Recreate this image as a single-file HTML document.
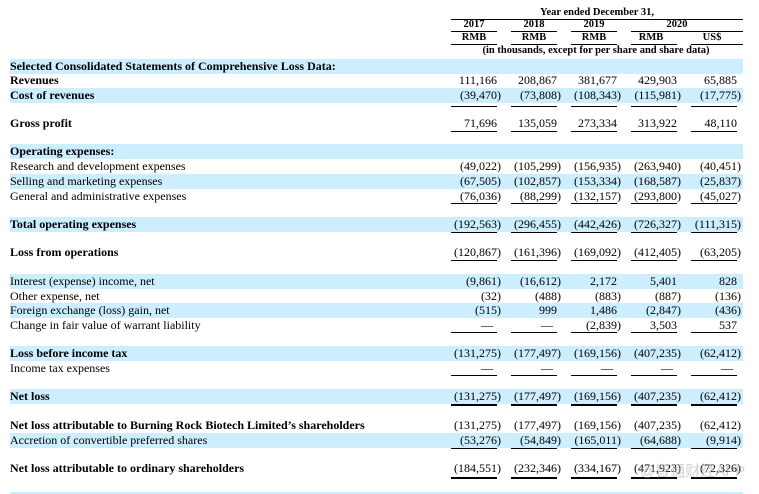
<!DOCTYPE html>
<html><head><meta charset="utf-8">
<style>
html,body{margin:0;padding:0;background:#fff;}
body{width:759px;height:494px;position:relative;overflow:hidden;font-family:"Liberation Serif","Times New Roman",serif;font-size:12px;color:#000;}
.r{position:absolute;left:0;width:759px;height:15px;line-height:15px;white-space:nowrap;}
.bg{position:absolute;left:10px;width:733px;height:15px;background:#cceeff;}
.l{position:absolute;left:10px;top:0;}
.b{font-weight:bold;}
.v{position:absolute;top:0;text-align:right;}
.v i{position:absolute;left:100%;font-style:normal;}
.c1{right:262px}.c2{right:202px}.c3{right:142px}.c4{right:82px}.c5{right:22px}
.d1{right:266px}.d2{right:206px}.d3{right:146px}.d4{right:86px}.d5{right:26px}
.u{position:absolute;height:1px;background:#000;}
.t{height:2px;}
.h{position:absolute;font-weight:bold;font-size:10.5px;line-height:12px;white-space:nowrap;transform:translateX(-50%);}
.wm{position:absolute;left:640px;top:460px;font-family:"Liberation Sans","Noto Sans CJK SC",sans-serif;font-size:15px;color:rgba(170,170,170,0.55);white-space:nowrap;}
</style></head>
<body>
<!-- header -->
<div class="h" style="left:597px;top:7px;">Year ended December 31,</div>
<div class="u" style="left:451px;top:19px;width:292px;"></div>
<div class="h" style="left:474px;top:19px;">2017</div>
<div class="h" style="left:534px;top:19px;">2018</div>
<div class="h" style="left:594px;top:19px;">2019</div>
<div class="h" style="left:677px;top:19px;">2020</div>
<div class="u" style="left:451px;top:31px;width:46px;"></div>
<div class="u" style="left:511px;top:31px;width:46px;"></div>
<div class="u" style="left:571px;top:31px;width:46px;"></div>
<div class="u" style="left:631px;top:31px;width:112px;"></div>
<div class="h" style="left:474px;top:32px;">RMB</div>
<div class="h" style="left:534px;top:32px;">RMB</div>
<div class="h" style="left:594px;top:32px;">RMB</div>
<div class="h" style="left:651px;top:32px;">RMB</div>
<div class="h" style="left:712px;top:32px;">US$</div>
<div class="u" style="left:451px;top:44px;width:46px;"></div>
<div class="u" style="left:511px;top:44px;width:46px;"></div>
<div class="u" style="left:571px;top:44px;width:46px;"></div>
<div class="u" style="left:631px;top:44px;width:46px;"></div>
<div class="u" style="left:691px;top:44px;width:52px;"></div>
<div class="h" style="left:596px;top:45px;">(in thousands, except for per share and share data)</div>

<!-- backgrounds -->
<div class="bg" style="top:59px"></div>
<div class="bg" style="top:88px"></div>
<div class="bg" style="top:144px"></div>
<div class="bg" style="top:174px"></div>
<div class="bg" style="top:217px"></div>
<div class="bg" style="top:274px"></div>
<div class="bg" style="top:303px"></div>
<div class="bg" style="top:346px"></div>
<div class="bg" style="top:389px"></div>
<div class="bg" style="top:433px"></div>
<div class="bg" style="top:492px;height:2px"></div>

<div class="r" style="top:59px"><span class="l b">Selected Consolidated Statements of Comprehensive Loss Data:</span></div>

<div class="r" style="top:73px"><span class="l b">Revenues</span>
<span class="v c1">111,166</span><span class="v c2">208,867</span><span class="v c3">381,677</span><span class="v c4">429,903</span><span class="v c5">65,885</span></div>

<div class="r" style="top:88px"><span class="l b">Cost of revenues</span>
<span class="v c1">(39,470<i>)</i></span><span class="v c2">(73,808<i>)</i></span><span class="v c3">(108,343<i>)</i></span><span class="v c4">(115,981<i>)</i></span><span class="v c5">(17,775<i>)</i></span></div>

<div class="r" style="top:116px"><span class="l b">Gross profit</span>
<span class="v c1">71,696</span><span class="v c2">135,059</span><span class="v c3">273,334</span><span class="v c4">313,922</span><span class="v c5">48,110</span></div>

<div class="r" style="top:144px"><span class="l b">Operating expenses:</span></div>

<div class="r" style="top:159px"><span class="l">Research and development expenses</span>
<span class="v c1">(49,022<i>)</i></span><span class="v c2">(105,299<i>)</i></span><span class="v c3">(156,935<i>)</i></span><span class="v c4">(263,940<i>)</i></span><span class="v c5">(40,451<i>)</i></span></div>

<div class="r" style="top:174px"><span class="l">Selling and marketing expenses</span>
<span class="v c1">(67,505<i>)</i></span><span class="v c2">(102,857<i>)</i></span><span class="v c3">(153,334<i>)</i></span><span class="v c4">(168,587<i>)</i></span><span class="v c5">(25,837<i>)</i></span></div>

<div class="r" style="top:189px"><span class="l">General and administrative expenses</span>
<span class="v c1">(76,036<i>)</i></span><span class="v c2">(88,299<i>)</i></span><span class="v c3">(132,157<i>)</i></span><span class="v c4">(293,800<i>)</i></span><span class="v c5">(45,027<i>)</i></span></div>

<div class="r" style="top:217px"><span class="l b">Total operating expenses</span>
<span class="v c1">(192,563<i>)</i></span><span class="v c2">(296,455<i>)</i></span><span class="v c3">(442,426<i>)</i></span><span class="v c4">(726,327<i>)</i></span><span class="v c5">(111,315<i>)</i></span></div>

<div class="r" style="top:245px"><span class="l b">Loss from operations</span>
<span class="v c1">(120,867<i>)</i></span><span class="v c2">(161,396<i>)</i></span><span class="v c3">(169,092<i>)</i></span><span class="v c4">(412,405<i>)</i></span><span class="v c5">(63,205<i>)</i></span></div>

<div class="r" style="top:274px"><span class="l">Interest (expense) income, net</span>
<span class="v c1">(9,861<i>)</i></span><span class="v c2">(16,612<i>)</i></span><span class="v c3">2,172</span><span class="v c4">5,401</span><span class="v c5">828</span></div>

<div class="r" style="top:289px"><span class="l">Other expense, net</span>
<span class="v c1">(32<i>)</i></span><span class="v c2">(488<i>)</i></span><span class="v c3">(883<i>)</i></span><span class="v c4">(887<i>)</i></span><span class="v c5">(136<i>)</i></span></div>

<div class="r" style="top:303px"><span class="l">Foreign exchange (loss) gain, net</span>
<span class="v c1">(515<i>)</i></span><span class="v c2">999</span><span class="v c3">1,486</span><span class="v c4">(2,847<i>)</i></span><span class="v c5">(436<i>)</i></span></div>

<div class="r" style="top:318px"><span class="l">Change in fair value of warrant liability</span>
<span class="v d1">—</span><span class="v d2">—</span><span class="v c3">(2,839<i>)</i></span><span class="v c4">3,503</span><span class="v c5">537</span></div>

<div class="r" style="top:346px"><span class="l b">Loss before income tax</span>
<span class="v c1">(131,275<i>)</i></span><span class="v c2">(177,497<i>)</i></span><span class="v c3">(169,156<i>)</i></span><span class="v c4">(407,235<i>)</i></span><span class="v c5">(62,412<i>)</i></span></div>

<div class="r" style="top:361px"><span class="l">Income tax expenses</span>
<span class="v d1">—</span><span class="v d2">—</span><span class="v d3">—</span><span class="v d4">—</span><span class="v d5">—</span></div>

<div class="r" style="top:389px"><span class="l b">Net loss</span>
<span class="v c1">(131,275<i>)</i></span><span class="v c2">(177,497<i>)</i></span><span class="v c3">(169,156<i>)</i></span><span class="v c4">(407,235<i>)</i></span><span class="v c5">(62,412<i>)</i></span></div>

<div class="r" style="top:418px"><span class="l b">Net loss attributable to Burning Rock Biotech Limited’s shareholders</span>
<span class="v c1">(131,275<i>)</i></span><span class="v c2">(177,497<i>)</i></span><span class="v c3">(169,156<i>)</i></span><span class="v c4">(407,235<i>)</i></span><span class="v c5">(62,412<i>)</i></span></div>

<div class="r" style="top:433px"><span class="l">Accretion of convertible preferred shares</span>
<span class="v c1">(53,276<i>)</i></span><span class="v c2">(54,849<i>)</i></span><span class="v c3">(165,011<i>)</i></span><span class="v c4">(64,688<i>)</i></span><span class="v c5">(9,914<i>)</i></span></div>

<div class="r" style="top:461px"><span class="l b">Net loss attributable to ordinary shareholders</span>
<span class="v c1">(184,551<i>)</i></span><span class="v c2">(232,346<i>)</i></span><span class="v c3">(334,167<i>)</i></span><span class="v c4">(471,923<i>)</i></span><span class="v c5">(72,326<i>)</i></span></div>

<!-- underlines -->
<div class="u" style="left:451px;top:106px;width:46px"></div><div class="u" style="left:511px;top:106px;width:46px"></div><div class="u" style="left:571px;top:106px;width:46px"></div><div class="u" style="left:631px;top:106px;width:46px"></div><div class="u" style="left:691px;top:106px;width:46px"></div>
<div class="u" style="left:451px;top:131px;width:46px"></div><div class="u" style="left:511px;top:131px;width:46px"></div><div class="u" style="left:571px;top:131px;width:46px"></div><div class="u" style="left:631px;top:131px;width:46px"></div><div class="u" style="left:691px;top:131px;width:46px"></div>
<div class="u" style="left:451px;top:203px;width:46px"></div><div class="u" style="left:511px;top:203px;width:46px"></div><div class="u" style="left:571px;top:203px;width:46px"></div><div class="u" style="left:631px;top:203px;width:46px"></div><div class="u" style="left:691px;top:203px;width:46px"></div>
<div class="u" style="left:451px;top:232px;width:46px"></div><div class="u" style="left:511px;top:232px;width:46px"></div><div class="u" style="left:571px;top:232px;width:46px"></div><div class="u" style="left:631px;top:232px;width:46px"></div><div class="u" style="left:691px;top:232px;width:46px"></div>
<div class="u" style="left:451px;top:260px;width:46px"></div><div class="u" style="left:511px;top:260px;width:46px"></div><div class="u" style="left:571px;top:260px;width:46px"></div><div class="u" style="left:631px;top:260px;width:46px"></div><div class="u" style="left:691px;top:260px;width:46px"></div>
<div class="u" style="left:451px;top:332px;width:46px"></div><div class="u" style="left:511px;top:332px;width:46px"></div><div class="u" style="left:571px;top:332px;width:46px"></div><div class="u" style="left:631px;top:332px;width:46px"></div><div class="u" style="left:691px;top:332px;width:46px"></div>
<div class="u" style="left:451px;top:375px;width:46px"></div><div class="u" style="left:511px;top:375px;width:46px"></div><div class="u" style="left:571px;top:375px;width:46px"></div><div class="u" style="left:631px;top:375px;width:46px"></div><div class="u" style="left:691px;top:375px;width:46px"></div>
<div class="u t" style="left:451px;top:404px;width:46px"></div><div class="u t" style="left:511px;top:404px;width:46px"></div><div class="u t" style="left:571px;top:404px;width:46px"></div><div class="u t" style="left:631px;top:404px;width:46px"></div><div class="u t" style="left:691px;top:404px;width:46px"></div>
<div class="u" style="left:451px;top:448px;width:46px"></div><div class="u" style="left:511px;top:448px;width:46px"></div><div class="u" style="left:571px;top:448px;width:46px"></div><div class="u" style="left:631px;top:448px;width:46px"></div><div class="u" style="left:691px;top:448px;width:46px"></div>
<div class="u t" style="left:451px;top:477px;width:46px"></div><div class="u t" style="left:511px;top:477px;width:46px"></div><div class="u t" style="left:571px;top:477px;width:46px"></div><div class="u t" style="left:631px;top:477px;width:46px"></div><div class="u t" style="left:691px;top:477px;width:46px"></div>

<div class="wm">@智通财经APP</div>
</body></html>
